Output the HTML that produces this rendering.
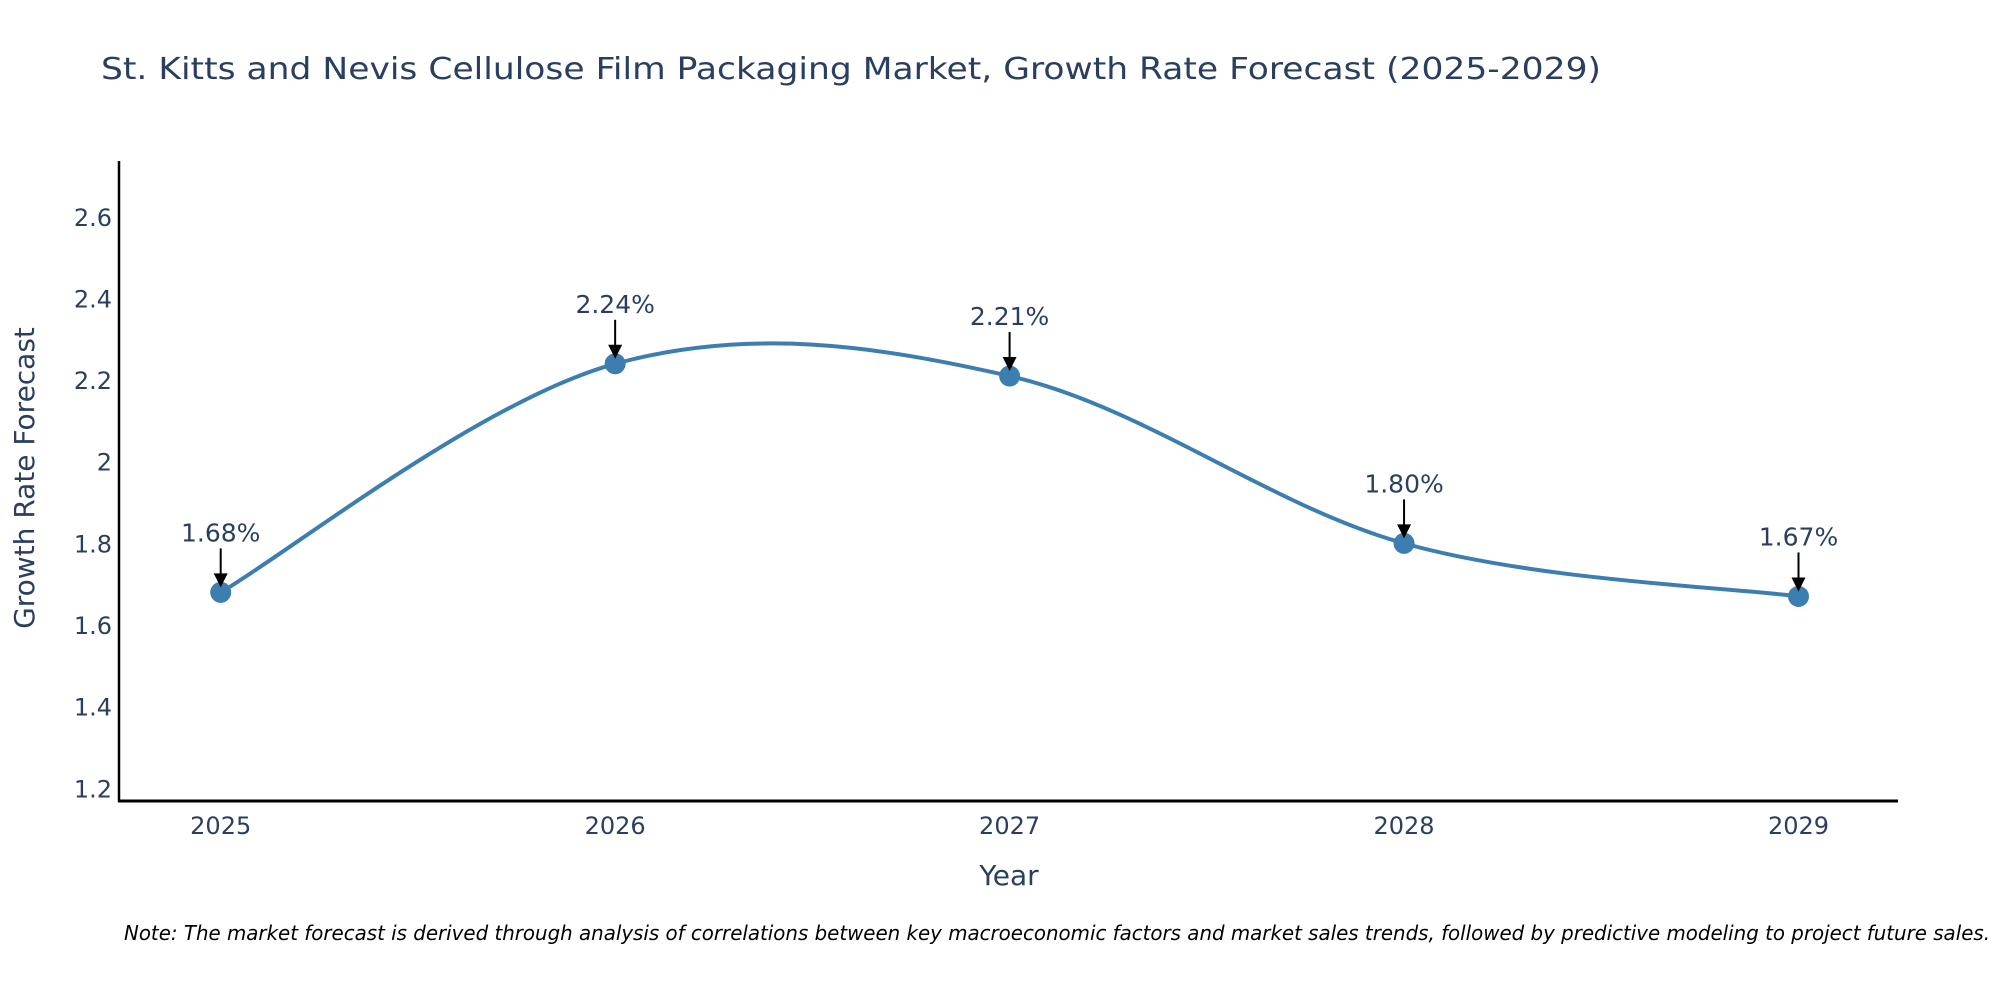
<!DOCTYPE html>
<html><head><meta charset="utf-8"><style>
html,body{margin:0;padding:0;background:#fff;overflow:hidden}
svg{display:block}
text{font-family:"DejaVu Sans","Liberation Sans",sans-serif;fill:#2a3f5f}
</style></head><body>
<svg id="chart" width="2000" height="1000">
<text x="101" y="79" font-size="30" textLength="1500" lengthAdjust="spacingAndGlyphs">St. Kitts and Nevis Cellulose Film Packaging Market, Growth Rate Forecast (2025-2029)</text>
<g id="yticks"></g>
<g id="xticks"></g>
<line x1="119" y1="161" x2="119" y2="802" stroke="#000" stroke-width="2.5"/>
<line x1="118" y1="801" x2="1898" y2="801" stroke="#000" stroke-width="3"/>
<text transform="translate(34,478) rotate(-90)" text-anchor="middle" font-size="28">Growth Rate Forecast</text>
<text x="1009" y="885" text-anchor="middle" font-size="28">Year</text>
<g id="series"></g>
<text x="124" y="940" font-size="20" font-style="italic" textLength="1866" lengthAdjust="spacingAndGlyphs" style="fill:#000">Note: The market forecast is derived through analysis of correlations between key macroeconomic factors and market sales trends, followed by predictive modeling to project future sales.</text>
</svg>
<script>
const years = [2025, 2026, 2027, 2028, 2029];
const growth = [1.68, 2.24, 2.21, 1.80, 1.67];
const labels = ["1.68%", "2.24%", "2.21%", "1.80%", "1.67%"];
const yTickValues = [1.2, 1.4, 1.6, 1.8, 2, 2.2, 2.4, 2.6];
const yTickLabels = ["1.2", "1.4", "1.6", "1.8", "2", "2.2", "2.4", "2.6"];

const NS = "http://www.w3.org/2000/svg";
function xScale(v){ return 220.7 + (v - 2025) * 394.45; }
function yScale(v){ return 788.3 - (v - 1.2) * 408.2; }
function mk(tag, attrs, parent){ const e = document.createElementNS(NS, tag); for (const k in attrs) e.setAttribute(k, attrs[k]); parent.appendChild(e); return e; }

const yg = document.getElementById('yticks');
yTickValues.forEach((v, i) => {
  const t = mk('text', {x: 112, y: yScale(v) + 9, 'text-anchor': 'end', 'font-size': 24}, yg);
  
  
  t.textContent = yTickLabels[i];
});
const xg = document.getElementById('xticks');
years.forEach(v => {
  const t = mk('text', {x: xScale(v), y: 834, 'text-anchor': 'middle', 'font-size': 24}, xg);
  
  
  t.textContent = String(v);
});

const sg = document.getElementById('series');
const pts = years.map((y, i) => [xScale(y), yScale(growth[i])]);
let d = `M${pts[0][0]},${pts[0][1]}`;
const s = 0.17;
for (let i = 0; i < pts.length - 1; i++) {
  const p0 = pts[Math.max(i - 1, 0)], p1 = pts[i], p2 = pts[i + 1], p3 = pts[Math.min(i + 2, pts.length - 1)];
  const c1 = [p1[0] + (p2[0] - p0[0]) * s, p1[1] + (p2[1] - p0[1]) * s];
  const c2 = [p2[0] - (p3[0] - p1[0]) * s, p2[1] - (p3[1] - p1[1]) * s];
  d += ` C${c1[0]},${c1[1]} ${c2[0]},${c2[1]} ${p2[0]},${p2[1]}`;
}
const line = mk('path', {d: d, fill: 'none', stroke: '#3d7eb0', 'stroke-width': 4}, sg);



pts.forEach((p, i) => {
  const c = mk('circle', {cx: p[0], cy: p[1], r: 10.5, fill: '#3d7eb0'}, sg);
  
  
  const a = mk('line', {x1: p[0], y1: p[1] - 44, x2: p[0], y2: p[1] - 18, stroke: '#000', 'stroke-width': 2}, sg);
  
  
  const h = mk('polygon', {points: `${p[0]-7},${p[1]-19} ${p[0]+7},${p[1]-19} ${p[0]},${p[1]-5}`, fill: '#000'}, sg);
  
  
  const t = mk('text', {x: p[0], y: p[1] - 51, 'text-anchor': 'middle', 'font-size': 25}, sg);
  
  
  t.textContent = labels[i];
});
</script>
</body></html>
